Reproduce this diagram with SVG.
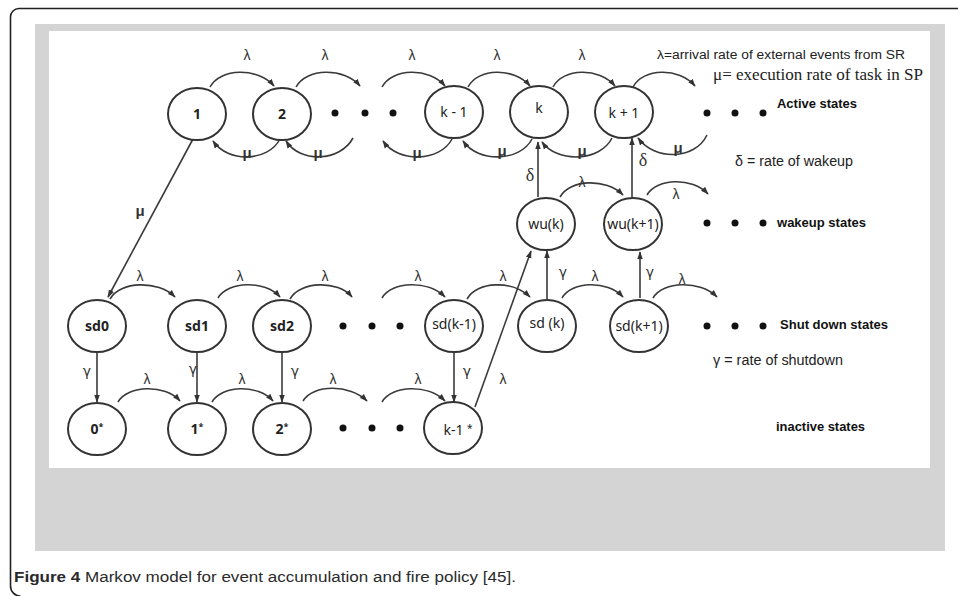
<svg xmlns="http://www.w3.org/2000/svg" width="958" height="596" viewBox="0 0 958 596">
<style>
.node ellipse{fill:#fff;stroke:#333;stroke-width:2}
.nl{font-family:"Noto Sans","Liberation Sans",sans-serif;font-size:14px;fill:#222;text-anchor:middle}
.nb{font-weight:bold}
.edge{fill:none;stroke:#3a3a3a;stroke-width:1.6}
.arr{marker-end:url(#ah)}
.lam{font-family:"Liberation Sans",Arial,sans-serif;font-size:14px;fill:#333;text-anchor:middle}
.mu{font-family:"Liberation Sans",Arial,sans-serif;font-size:15px;font-weight:bold;fill:#333;text-anchor:middle}
.gam{font-family:"DejaVu Sans",sans-serif;font-size:14px;fill:#333;text-anchor:middle}
.del{font-family:"Liberation Serif","Times New Roman",serif;font-size:18px;fill:#333;text-anchor:middle}
.leg{font-family:"Liberation Sans",Arial,sans-serif;fill:#222}
.bl{font-family:"Liberation Sans",Arial,sans-serif;font-weight:bold;font-size:12px;fill:#111}
.dot{fill:#111}
</style>
<defs>
<marker id="ah" viewBox="0 0 10 10" refX="9" refY="5" markerWidth="8" markerHeight="8" markerUnits="userSpaceOnUse" orient="auto">
<path d="M0,1.5 L10,5 L0,8.5 z" fill="#333"/>
</marker>
</defs>
<rect x="0" y="0" width="958" height="596" fill="#fff"/>
<path d="M958,8.5 H19 A8.5,8.5 0 0 0 10.5,17 V586 A10,10 0 0 0 20.5,596" fill="none" stroke="#222" stroke-width="1.6"/>
<rect x="35" y="24" width="910" height="527" fill="#d4d4d4"/>
<rect x="49" y="31" width="881" height="437" fill="#fff"/>

<g id="connectors">
<path class="edge arr" d="M210,87 C220,68 258,67 274,86"/>
<path class="edge arr" d="M296,87 C306,68 344,67 360,86"/>
<path class="edge arr" d="M382,87 C392,68 429,67 445,86"/>
<path class="edge arr" d="M468,87 C478,68 514,67 530,86"/>
<path class="edge arr" d="M553,87 C563,68 599,67 615,86"/>
<path class="edge arr" d="M633,87 C643,68 679,67 695,86"/>
<path class="edge arr" d="M280,139 C268,162 228,163 213,141"/>
<path class="edge arr" d="M353,138 C340,162 300,163 286,141"/>
<path class="edge arr" d="M452,139 C440,162 398,163 383,141"/>
<path class="edge arr" d="M532,139 C520,162 478,163 463,141"/>
<path class="edge arr" d="M612,138 C600,162 557,163 542,142"/>
<path class="edge arr" d="M707,135 C695,160 655,161 638,138"/>
<path class="edge arr" d="M538,197 V142"/>
<path class="edge arr" d="M632,197 V138"/>
<path class="edge arr" d="M560,197 C570,179 606,178 623,195"/>
<path class="edge arr" d="M647,195 C657,178 692,177 708,194"/>
<path class="edge arr" d="M547,299 V251"/>
<path class="edge arr" d="M640,298 V252"/>
<path class="edge arr" d="M475,407 L531,251"/>
<path class="edge arr" d="M193,139 L108,297"/>
<path class="edge arr" d="M110,299 C120,281 158,280 175,297"/>
<path class="edge arr" d="M218,298 C228,281 265,280 280,297"/>
<path class="edge arr" d="M290,299 C300,281 338,280 352,297"/>
<path class="edge arr" d="M382,298 C392,281 428,280 445,297"/>
<path class="edge arr" d="M467,299 C477,281 512,280 530,297"/>
<path class="edge arr" d="M562,298 C572,281 607,280 623,297"/>
<path class="edge arr" d="M653,298 C663,281 700,280 717,297"/>
<path class="edge arr" d="M97,352 V402"/>
<path class="edge arr" d="M197,352 V402"/>
<path class="edge arr" d="M282,352 V402"/>
<path class="edge arr" d="M454,351 V402"/>
<path class="edge arr" d="M118,402 C128,385 165,384 180,401"/>
<path class="edge arr" d="M212,402 C222,385 258,384 273,401"/>
<path class="edge arr" d="M303,401 C313,384 350,384 367,401"/>
<path class="edge arr" d="M382,402 C392,385 428,384 445,401"/>

<text class="lam" x="247" y="60">λ</text>
<text class="lam" x="325" y="60">λ</text>
<text class="lam" x="412" y="60">λ</text>
<text class="lam" x="497" y="60">λ</text>
<text class="lam" x="582" y="60">λ</text>
<text class="mu" x="247" y="158">μ</text>
<text class="mu" x="318" y="158">μ</text>
<text class="mu" x="417" y="158">μ</text>
<text class="mu" x="502" y="156">μ</text>
<text class="mu" x="582" y="156">μ</text>
<text class="mu" x="678" y="153">μ</text>
<text class="del" x="530" y="181">δ</text>
<text class="del" x="643" y="166">δ</text>
<text class="lam" x="582" y="187">λ</text>
<text class="lam" x="676" y="199">λ</text>
<text class="gam" x="563" y="277">γ</text>
<text class="gam" x="650" y="277">γ</text>
<text class="lam" x="503" y="384">λ</text>
<text class="mu" x="140" y="216">μ</text>
<text class="lam" x="140" y="281">λ</text>
<text class="lam" x="240" y="281">λ</text>
<text class="lam" x="325" y="281">λ</text>
<text class="lam" x="418" y="281">λ</text>
<text class="lam" x="503" y="281">λ</text>
<text class="lam" x="595" y="281">λ</text>
<text class="lam" x="682" y="284">λ</text>
<text class="gam" x="87" y="376">γ</text>
<text class="gam" x="193" y="374">γ</text>
<text class="gam" x="295" y="376">γ</text>
<text class="gam" x="467" y="376">γ</text>
<text class="lam" x="147" y="384">λ</text>
<text class="lam" x="242" y="384">λ</text>
<text class="lam" x="333" y="384">λ</text>
<text class="lam" x="418" y="384">λ</text>
</g>

<g id="n1" class="node"><ellipse cx="197" cy="114" rx="29" ry="26"/><text class="nl nb" x="197" y="119">1</text></g>
<g id="n2" class="node"><ellipse cx="282" cy="114" rx="29" ry="26"/><text class="nl nb" x="282" y="119">2</text></g>
<g id="nkm1" class="node"><ellipse cx="454" cy="112" rx="29" ry="26"/><text class="nl" x="454" y="117">k - 1</text></g>
<g id="nk" class="node"><ellipse cx="539" cy="112" rx="29" ry="26"/><text class="nl" x="539" y="113">k</text></g>
<g id="nkp1" class="node"><ellipse cx="624" cy="112" rx="29" ry="26"/><text class="nl" x="624" y="118">k + 1</text></g>
<g id="wuk" class="node"><ellipse cx="546" cy="224" rx="29" ry="26"/><text class="nl" x="546" y="229">wu(k)</text></g>
<g id="wukp1" class="node"><ellipse cx="633" cy="224" rx="29" ry="26"/><text class="nl" x="633" y="229" font-size="13">wu(k+1)</text></g>
<g id="sd0" class="node"><ellipse cx="97" cy="326" rx="29" ry="26"/><text class="nl nb" x="97" y="331">sd0</text></g>
<g id="sd1" class="node"><ellipse cx="197" cy="326" rx="29" ry="26"/><text class="nl nb" x="197" y="331">sd1</text></g>
<g id="sd2" class="node"><ellipse cx="282" cy="326" rx="29" ry="26"/><text class="nl nb" x="282" y="331">sd2</text></g>
<g id="sdkm1" class="node"><ellipse cx="454" cy="326" rx="29" ry="26"/><text class="nl" x="454" y="329" font-size="13">sd(k-1)</text></g>
<g id="sdk" class="node"><ellipse cx="547" cy="326" rx="29" ry="26"/><text class="nl" x="547" y="328">sd (k)</text></g>
<g id="sdkp1" class="node"><ellipse cx="639" cy="326" rx="29" ry="26"/><text class="nl" x="639" y="331" font-size="13">sd(k+1)</text></g>
<g id="i0" class="node"><ellipse cx="97" cy="429" rx="29" ry="26"/><text class="nl nb" x="97" y="434">0<tspan font-size="9" dy="-4">*</tspan></text></g>
<g id="i1" class="node"><ellipse cx="197" cy="429" rx="29" ry="26"/><text class="nl nb" x="197" y="434">1<tspan font-size="9" dy="-4">*</tspan></text></g>
<g id="i2" class="node"><ellipse cx="282" cy="429" rx="29" ry="26"/><text class="nl nb" x="282" y="434">2<tspan font-size="9" dy="-4">*</tspan></text></g>
<g id="ikm1" class="node"><ellipse cx="453" cy="428" rx="29" ry="26"/><text class="nl" x="458" y="435" font-size="12.5">k-1 <tspan font-size="10" dy="-3">*</tspan></text></g>

<g id="dots">
<circle class="dot" cx="335" cy="113" r="3.5"/><circle class="dot" cx="365" cy="113" r="3.5"/><circle class="dot" cx="393" cy="113" r="3.5"/>
<circle class="dot" cx="707" cy="113" r="3.5"/><circle class="dot" cx="735" cy="113" r="3.5"/><circle class="dot" cx="763" cy="113" r="3.5"/>
<circle class="dot" cx="707" cy="223" r="3.5"/><circle class="dot" cx="735" cy="223" r="3.5"/><circle class="dot" cx="763" cy="223" r="3.5"/>
<circle class="dot" cx="343" cy="326" r="3.5"/><circle class="dot" cx="372" cy="326" r="3.5"/><circle class="dot" cx="400" cy="326" r="3.5"/>
<circle class="dot" cx="707" cy="326" r="3.5"/><circle class="dot" cx="735" cy="326" r="3.5"/><circle class="dot" cx="763" cy="326" r="3.5"/>
<circle class="dot" cx="343" cy="428" r="3.5"/><circle class="dot" cx="372" cy="428" r="3.5"/><circle class="dot" cx="400" cy="428" r="3.5"/>
</g>

<g id="legend">
<text class="leg" x="657" y="59" font-size="12.5" textLength="248" lengthAdjust="spacingAndGlyphs">λ=arrival rate of external events from SR</text>
<text x="713" y="80" font-family="Liberation Serif,'Times New Roman',serif" font-size="17" fill="#222" textLength="210" lengthAdjust="spacingAndGlyphs">μ= execution rate of task in SP</text>
<text class="bl" x="777" y="108" textLength="80" lengthAdjust="spacingAndGlyphs">Active states</text>
<text class="leg" x="735" y="166" font-size="14" textLength="118" lengthAdjust="spacingAndGlyphs">δ = rate of wakeup</text>
<text class="bl" x="777" y="227" textLength="89" lengthAdjust="spacingAndGlyphs">wakeup states</text>
<text class="bl" x="780" y="329" textLength="108" lengthAdjust="spacingAndGlyphs">Shut down states</text>
<text class="leg" x="713" y="365" font-size="14" textLength="130" lengthAdjust="spacingAndGlyphs">γ = rate of shutdown</text>
<text class="bl" x="776" y="431" textLength="89" lengthAdjust="spacingAndGlyphs">inactive states</text>
</g>

<text x="14" y="582" font-family="Liberation Sans,Arial,sans-serif" font-size="15.5" fill="#2a2a2a" textLength="502" lengthAdjust="spacingAndGlyphs"><tspan font-weight="bold">Figure 4</tspan> Markov model for event accumulation and fire policy [45].</text>
</svg>
